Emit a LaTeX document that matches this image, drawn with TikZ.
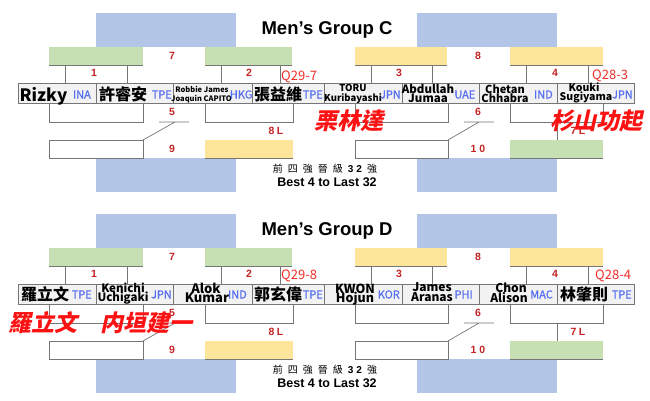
\documentclass[tikz,border=0pt]{standalone}
\usepackage{fontspec}
\setmainfont{Liberation Sans}
\newfontfamily\nm{Noto Sans CJK TC}
\newfontfamily\cdfont{Noto Sans CJK TC}[FakeBold=0.6]
\newfontfamily\rf{Noto Sans CJK TC}[FakeSlant=0.22]
\definecolor{bluebg}{RGB}{180,198,231}
\definecolor{greenbg}{RGB}{198,224,180}
\definecolor{yellowbg}{RGB}{253,230,153}
\definecolor{boxfill}{RGB}{242,242,242}
\definecolor{linegray}{RGB}{118,118,118}
\definecolor{codeblue}{RGB}{86,110,240}
\definecolor{numred}{RGB}{196,36,36}
\definecolor{qred}{RGB}{240,48,40}
\definecolor{bigred}{RGB}{252,18,18}
\tikzset{
 bluebox/.style={fill=bluebg},
 gbar/.style={fill=greenbg},
 ybar/.style={fill=yellowbg},
 ln/.style={draw=linegray, line width=0.7pt},
 nbox/.style={fill=boxfill, draw=linegray, line width=0.7pt},
 rnum/.style={text=numred, font=\bfseries\fontsize{10.5}{10.5}\selectfont, inner sep=0pt},
 qlab/.style={text=qred, font=\nm\fontsize{13}{13}\selectfont, inner sep=0pt, anchor=base west},
 cd/.style={text=codeblue, font=\cdfont\fontsize{11}{11}\selectfont, inner sep=0pt, anchor=base east},
 pn/.style={font=\nm\bfseries\fontsize{#1}{#1}\selectfont, inner sep=0pt, anchor=base},
 ttl/.style={font=\bfseries\fontsize{18.5}{18.5}\selectfont, inner sep=0pt},
 sub/.style={font=\bfseries\fontsize{12.5}{12.5}\selectfont, inner sep=0pt},
 big/.style={text=bigred, font=\rf\bfseries\fontsize{23}{23}\selectfont, inner sep=0pt},
}
\newcommand\grpframe[2]{%
 \fill[bluebox] (96,13) rectangle (236,47);
 \fill[bluebox] (417,13) rectangle (557,47);
 \fill[bluebox] (96,158) rectangle (236,192);
 \fill[bluebox] (417,158) rectangle (557,192);
 \fill[gbar] (49,47) rectangle (143,65);
 \fill[gbar] (205,47) rectangle (292,65);
 \fill[ybar] (355,47) rectangle (447,65);
 \fill[ybar] (510,47) rectangle (603,65);
 \draw[ln] (49,65) -- (143,65) (205,65) -- (292,65) (355,65) -- (447,65) (510,65) -- (603,65);
 \draw[ln] (65,65) -- (65,83) (127,65) -- (127,83) (221,65) -- (221,83) (280,65) -- (280,83)
   (371,65) -- (371,83) (432,65) -- (432,83) (526,65) -- (526,83) (588,65) -- (588,83);
 \foreach \a/\b in {18/96,96/173,173/252,252/324,324/402,402/479,479/557,557/634}
   {\draw[nbox] (\a,83) rectangle (\b,103.5);}
 \draw[ln] (49,103.5) -- (49,122) -- (143,122) -- (143,103.5);
 \draw[ln] (205,103.5) -- (205,122) -- (293,122) -- (293,103.5);
 \draw[ln] (355,103.5) -- (355,122) -- (448,122) -- (448,103.5);
 \draw[ln] (510,103.5) -- (510,122) -- (603,122) -- (603,103.5);
 \draw[ln] (159,122) -- (189,122) (175,122) -- (143,140);
 \draw[ln] (464,122) -- (494,122) (479,122) -- (448,140);
 \draw[ln, fill=white] (49,140) rectangle (143,158);
 \draw[ln, fill=white] (355,140) rectangle (448,158);
 \fill[ybar] (205,140) rectangle (293,158);
 \fill[gbar] (510,140) rectangle (603,158);
 \draw[ln] (205,158) -- (293,158) (510,158) -- (603,158) (557,122) -- (557,140);
 \node[rnum] (#1n1) at (94,73) {1};
 \node[rnum] (#1n2) at (249,73) {2};
 \node[rnum] (#1n3) at (399,73) {3};
 \node[rnum] (#1n4) at (555,73) {4};
 \node[rnum] (#1n7) at (172,56) {7};
 \node[rnum] (#1n8) at (478,56) {8};
 \node[rnum] (#1n5) at (172,112) {5};
 \node[rnum] (#1n6) at (478,112) {6};
 \node[rnum] (#1n9) at (172,149) {9};
 \node[rnum] (#1n10) at (478,149) {1\hspace{3pt}0};
 \node[rnum] (#1l8) at (276,131) {8\hspace{2.5pt}L};
 \node[rnum] (#1l7) at (578,131) {7\hspace{2.5pt}L};
 \node[ttl] (#1title) at (327,30) {#2};
 \node[inner sep=0pt, font=\fontsize{10}{10}\selectfont] (#1cn) at (325,169)
   {{\nm 前\hspace{5pt}四\hspace{5pt}強\hspace{5pt}晉\hspace{5pt}級}\hspace{5pt}{\bfseries 3\hspace{3pt}2}\hspace{5pt}{\nm 強}};
 \node[sub] (#1en) at (327,182) {Best 4 to Last 32};
}
\begin{document}
\begin{tikzpicture}[x=1pt,y=-1pt]
\useasboundingbox (0,0) rectangle (650,400);
\fill[white] (0,0) rectangle (650,400);
% ---------------- Group C
\begin{scope}
\grpframe{c}{Men’s Group C}
\node[pn=17] (c1) at (43.5,101) {Rizky};
\node[cd] (c1c) at (91,98.5) {INA};
\node[pn=16] (c2) at (123,100) {許睿安};
\node[cd] (c2c) at (172,98.5) {TPE};
\node[pn=7.5] (c3a) at (202,92) {Robbie James};
\node[pn=7.5] (c3b) at (201.5,101) {Joaquin CAPITO};
\node[cd] (c3c) at (252.5,98.5) {HKG};
\node[pn=16] (c4) at (278,100) {張益維};
\node[cd] (c4c) at (323,98.5) {TPE};
\node[pn=9.5] (c5a) at (353,91) {TORU};
\node[pn=9.5] (c5b) at (353,101) {Kuribayashi};
\node[cd] (c5c) at (401,98.5) {JPN};
\node[pn=11.5] (c6a) at (428,93) {Abdullah};
\node[pn=11.5] (c6b) at (428,102) {Jumaa};
\node[cd] (c6c) at (475.5,98.5) {UAE};
\node[pn=11] (c7a) at (505,93) {Chetan};
\node[pn=11] (c7b) at (505,102) {Chhabra};
\node[cd] (c7c) at (553,98.5) {IND};
\node[pn=10.5] (c8a) at (584,91.5) {Kouki};
\node[pn=10.5] (c8b) at (586,100.5) {Sugiyama};
\node[cd] (c8c) at (633,98.5) {JPN};
\node[qlab] (cq1) at (281,80) {Q29-7};
\node[qlab] (cq2) at (592,79) {Q28-3};
\node[big] (cr1) at (349,121) {栗林達};
\node[big] (cr2) at (596,121) {杉山功起};
\end{scope}
% ---------------- Group D
\begin{scope}[yshift=-201pt]
\grpframe{d}{Men’s Group D}
\node[pn=16] (d1) at (45,99) {羅立文};
\node[cd] (d1c) at (92,97.5) {TPE};
\node[pn=11.5] (d2a) at (123,91.7) {Kenichi};
\node[pn=11.5] (d2b) at (123,100.7) {Uchigaki};
\node[cd] (d2c) at (172,97.5) {JPN};
\node[pn=13] (d3a) at (206,92.3) {Alok};
\node[pn=13] (d3b) at (207,101.5) {Kumar};
\node[cd] (d3c) at (247,97.5) {IND};
\node[pn=16] (d4) at (278,99) {郭玄偉};
\node[cd] (d4c) at (323,97.5) {TPE};
\node[pn=12.5] (d5a) at (355,92.3) {KWON};
\node[pn=12.5] (d5b) at (355,101.5) {Hojun};
\node[cd] (d5c) at (400,97.5) {KOR};
\node[pn=12] (d6a) at (432,90.7) {James};
\node[pn=12] (d6b) at (432,100.5) {Aranas};
\node[cd] (d6c) at (473,97.5) {PHI};
\node[pn=12] (d7a) at (511,91.7) {Chon};
\node[pn=12] (d7b) at (509,101.5) {Alison};
\node[cd] (d7c) at (553,97.5) {MAC};
\node[pn=16] (d8) at (584,99) {林肇則};
\node[cd] (d8c) at (632,97.5) {TPE};
\node[qlab] (dq1) at (281,78) {Q29-8};
\node[qlab] (dq2) at (595,78.3) {Q28-4};
\node[big] (dr1) at (43,122) {羅立文};
\node[big] (dr2) at (146,122) {内垣建一};
\end{scope}
\end{tikzpicture}
\end{document}
